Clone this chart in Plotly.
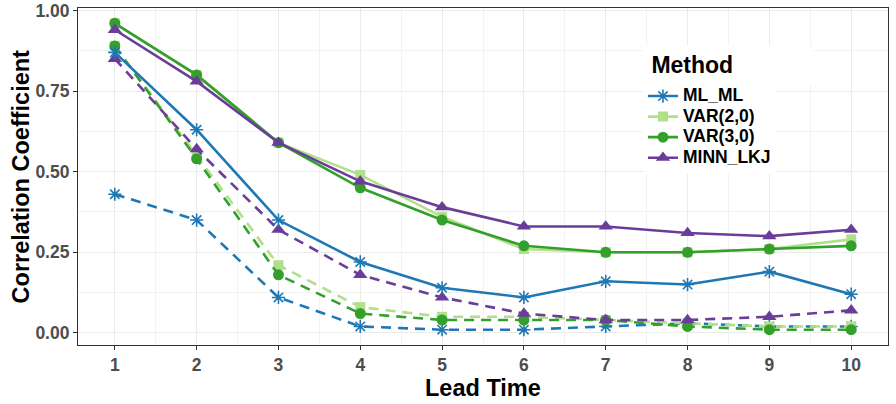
import plotly.graph_objects as go

lead_time = [1, 2, 3, 4, 5, 6, 7, 8, 9, 10]
methods = ["ML_ML", "VAR(2,0)", "VAR(3,0)", "MINN_LKJ"]
colors = {"ML_ML": "#1f78b4", "VAR(2,0)": "#b2df8a", "VAR(3,0)": "#33a02c", "MINN_LKJ": "#6a3d9a"}
symbols = {"ML_ML": "asterisk-open", "VAR(2,0)": "square", "VAR(3,0)": "circle", "MINN_LKJ": "triangle-up"}
sizes = {"ML_ML": 11, "VAR(2,0)": 10, "VAR(3,0)": 11, "MINN_LKJ": 12.5}

# solid lines
solid_ml_ml = [0.87, 0.63, 0.35, 0.22, 0.14, 0.11, 0.16, 0.15, 0.19, 0.12]
solid_var20 = [0.96, 0.80, 0.59, 0.49, 0.36, 0.26, 0.25, 0.25, 0.26, 0.29]
solid_var30 = [0.96, 0.80, 0.59, 0.45, 0.35, 0.27, 0.25, 0.25, 0.26, 0.27]
solid_minn = [0.94, 0.78, 0.59, 0.47, 0.39, 0.33, 0.33, 0.31, 0.30, 0.32]

# dashed lines
dashed_ml_ml = [0.43, 0.35, 0.11, 0.02, 0.01, 0.01, 0.02, 0.03, 0.02, 0.02]
dashed_var20 = [0.89, 0.55, 0.21, 0.08, 0.05, 0.05, 0.04, 0.03, 0.02, 0.02]
dashed_var30 = [0.89, 0.54, 0.18, 0.06, 0.04, 0.04, 0.04, 0.02, 0.01, 0.01]
dashed_minn = [0.85, 0.57, 0.32, 0.18, 0.11, 0.06, 0.04, 0.04, 0.05, 0.07]

solid = {"ML_ML": solid_ml_ml, "VAR(2,0)": solid_var20, "VAR(3,0)": solid_var30, "MINN_LKJ": solid_minn}
dashed = {"ML_ML": dashed_ml_ml, "VAR(2,0)": dashed_var20, "VAR(3,0)": dashed_var30, "MINN_LKJ": dashed_minn}

fig = go.Figure()

def marker_for(m):
    if m == "ML_ML":
        return dict(symbol=symbols[m], size=sizes[m], color=colors[m], line=dict(color=colors[m], width=1.6))
    return dict(symbol=symbols[m], size=sizes[m], color=colors[m], line=dict(width=0))

for m in methods:
    fig.add_trace(go.Scatter(
        x=lead_time, y=dashed[m], mode="lines+markers", name=m, legendgroup=m,
        showlegend=False, line=dict(color=colors[m], width=2.6, dash="10px,7px"),
        marker=marker_for(m)))
for m in methods:
    fig.add_trace(go.Scatter(
        x=lead_time, y=solid[m], mode="lines+markers",
        name="<span style='font-size:17.5px'>" + m + "</span>", legendgroup=m,
        showlegend=True, line=dict(color=colors[m], width=2.6),
        marker=marker_for(m)))

fig.update_layout(
    width=896, height=404,
    margin=dict(l=78, r=8, t=8, b=59),
    paper_bgcolor="white", plot_bgcolor="white",
    font=dict(family="Liberation Sans, Arial, sans-serif", color="black"),
    legend=dict(
        font=dict(size=13.5, color="black", weight="bold"),
        x=0.6975, y=0.784, xanchor="left", yanchor="top",
        bgcolor="white", borderwidth=0, tracegroupgap=0, itemwidth=30,
    ),
    xaxis=dict(
        range=[0.55, 10.45], tickmode="array", tickvals=lead_time,
        ticktext=[str(v) for v in lead_time], automargin=False,
        showgrid=True, gridcolor="#ebebeb", gridwidth=1.2,
        minor=dict(tickvals=[1.5 + i for i in range(9)], showgrid=True, gridcolor="#f2f2f2", gridwidth=0.7),
        ticks="outside", ticklen=4, tickcolor="#333333", tickwidth=1.1,
        tickfont=dict(size=17.5, color="#4d4d4d", weight="bold"),
        showline=True, linecolor="#333333", linewidth=1.1, mirror=True, zeroline=False,
    ),
    yaxis=dict(
        range=[-0.0375, 1.0075], tickmode="array", tickvals=[0, 0.25, 0.5, 0.75, 1.0],
        ticktext=["0.00", "0.25", "0.50", "0.75", "1.00"], automargin=False,
        showgrid=True, gridcolor="#ebebeb", gridwidth=1.2,
        minor=dict(tickvals=[0.125, 0.375, 0.625, 0.875], showgrid=True, gridcolor="#f2f2f2", gridwidth=0.7),
        ticks="outside", ticklen=4, tickcolor="#333333", tickwidth=1.1,
        tickfont=dict(size=17.5, color="#4d4d4d", weight="bold"),
        showline=True, linecolor="#333333", linewidth=1.1, mirror=True, zeroline=False,
    ),
    annotations=[
        dict(text="&nbsp;<b>Method</b>", xref="paper", yref="paper", x=0.6975, y=0.890,
             xanchor="left", yanchor="top", width=167, height=36, align="left", valign="middle",
             bgcolor="white", showarrow=False, font=dict(size=23, color="black")),
        dict(text="<b>Lead Time</b>", xref="paper", yref="paper", x=0.5, y=-0.1285,
             xanchor="center", yanchor="middle", showarrow=False, font=dict(size=23.5, color="black")),
        dict(text="<b>Correlation Coefficient</b>", xref="paper", yref="paper", x=-0.0705, y=0.5,
             xanchor="center", yanchor="middle", textangle=-90, showarrow=False,
             font=dict(size=23.5, color="black")),
    ],
)

fig.write_html("out.html", post_script="document.body.style.margin='0px';",
               config={"displayModeBar": False})
